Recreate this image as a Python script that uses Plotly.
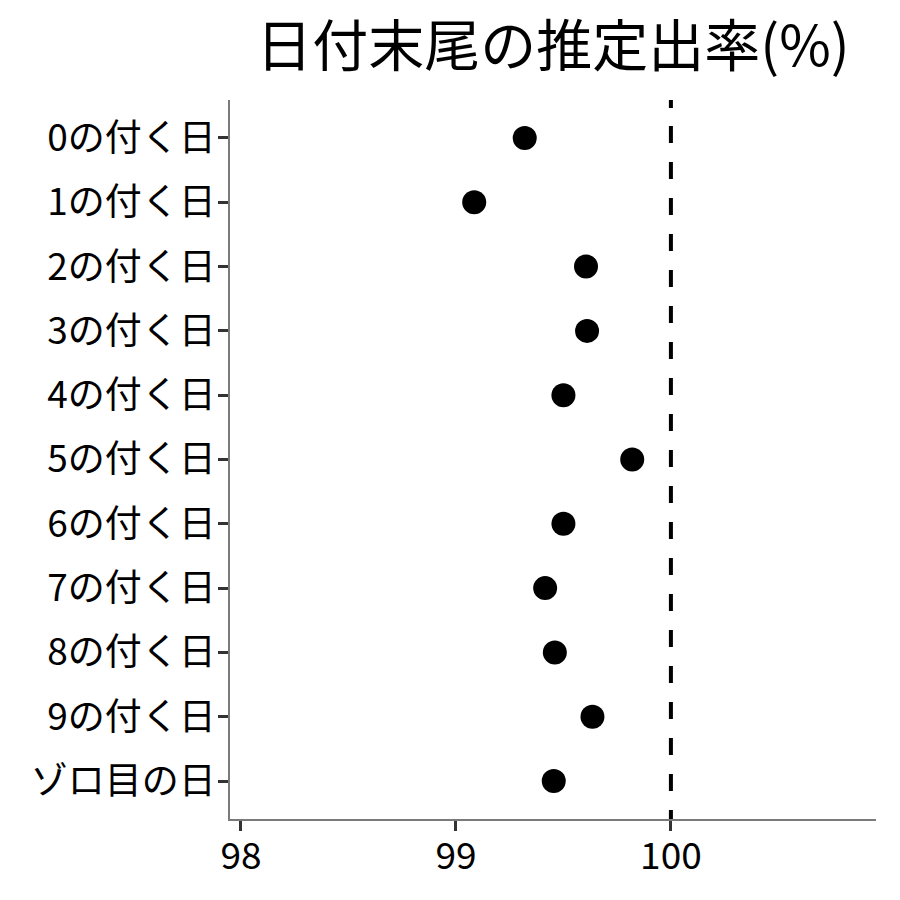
import plotly.graph_objects as go

categories = ["0の付く日", "1の付く日", "2の付く日", "3の付く日", "4の付く日",
              "5の付く日", "6の付く日", "7の付く日", "8の付く日", "9の付く日", "ゾロ目の日"]
values = [99.32, 99.085, 99.605, 99.61, 99.50, 99.82, 99.50, 99.415, 99.46, 99.635, 99.455]
x_ticks = [98, 99, 100]
ref_value = 100
title_text = "日付末尾の推定出率(%)"

FONT = "Noto Sans CJK JP"

fig = go.Figure()
fig.add_trace(go.Scatter(
    x=values, y=categories, mode="markers",
    marker=dict(color="black", size=24, line=dict(width=0)),
    showlegend=False,
))

dash_pattern = "8px,18px," + ",".join(["17px,19px"] * 25)
fig.add_shape(type="line", xref="x", yref="paper", x0=ref_value, x1=ref_value, y0=1, y1=0,
              line=dict(color="black", width=4, dash=dash_pattern))

fig.update_layout(
    width=900, height=900,
    paper_bgcolor="white", plot_bgcolor="white",
    margin=dict(l=222, r=32, t=92, b=89),
    font=dict(family=FONT, size=37, color="black"),
    title=dict(text=title_text, x=0.5, xref="paper", xanchor="center",
               y=0.957, yref="container", yanchor="middle",
               font=dict(family=FONT, size=56, color="black")),
)
fig.update_xaxes(
    range=[97.949, 100.954], tickvals=x_ticks, ticktext=[str(v) for v in x_ticks],
    showgrid=False, zeroline=False,
    showline=True, linecolor="#7a7a7a", linewidth=1.5,
    ticks="outside", ticklen=10, tickwidth=3, tickcolor="#333333",
    ticklabelstandoff=-6,
    tickfont=dict(family=FONT, size=37, color="black"),
)
fig.update_yaxes(
    type="category", categoryorder="array", categoryarray=categories,
    range=[10.59, -0.59],
    showgrid=False, zeroline=False,
    showline=True, linecolor="#7a7a7a", linewidth=1.5,
    ticks="outside", ticklen=10, tickwidth=3, tickcolor="#333333",
    ticklabelstandoff=-5,
    tickfont=dict(family=FONT, size=37, color="black"),
)

fig.write_html("out.html")
